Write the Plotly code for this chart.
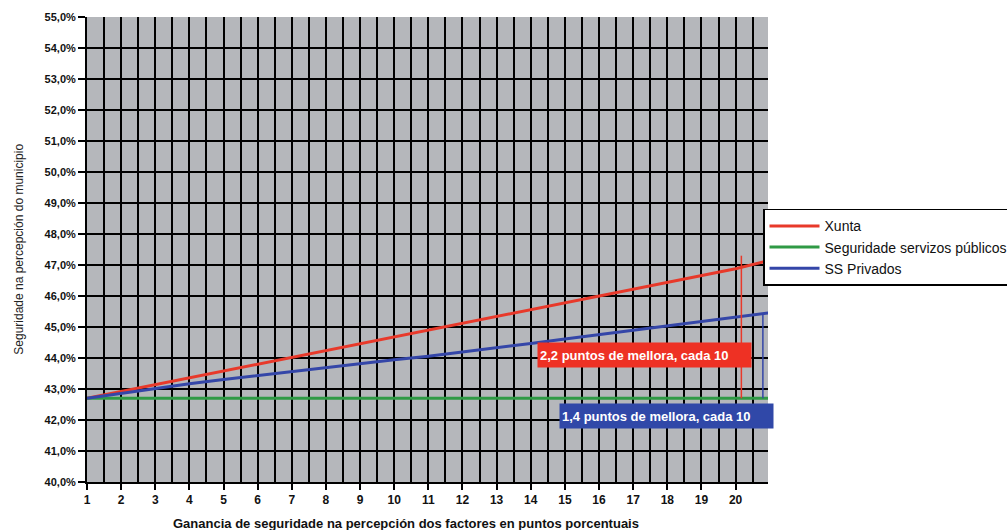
import plotly.graph_objects as go

x_vals = list(range(1, 22))
xunta = [42.70, 42.92, 43.14, 43.36, 43.58, 43.80, 44.02, 44.24, 44.46, 44.68, 44.90,
         45.12, 45.34, 45.56, 45.78, 46.00, 46.22, 46.44, 46.66, 46.88, 47.15]
publicos = [42.70] * 21
privados = [42.70, 42.86, 43.02, 43.17, 43.31, 43.44, 43.57, 43.70, 43.83, 43.94, 44.06,
            44.19, 44.33, 44.47, 44.61, 44.75, 44.89, 45.03, 45.17, 45.31, 45.46]

series_names = ["Xunta", "Seguridade servizos públicos", "SS Privados"]
series_colors = ["#e8392a", "#2f9a45", "#3446a8"]

# reference (vertical) markers
red_marker_x = [20.17, 20.17]
red_marker_y = [42.70, 47.30]
blue_marker_x = [20.80, 20.80]
blue_marker_y = [42.70, 45.45]

label_texts = ["2,2 puntos de mellora, cada 10", "1,4 puntos de mellora, cada 10"]
label_pos = [(14.17, 44.10), (14.82, 42.12)]   # left edge of each box
label_colors = ["#ee3124", "#3048a8"]

y_ticks = list(range(40, 56))
y_labels = [f"{v},0%" for v in y_ticks]
x_ticks = list(range(1, 21))

x_title = "Ganancia de seguridade na percepción dos factores en puntos porcentuais"
y_title = "Seguridade na percepción do municipio"

fig = go.Figure()
for name, ys, col in zip(series_names, [xunta, publicos, privados], series_colors):
    fig.add_trace(go.Scatter(x=x_vals, y=ys, mode="lines", name=name,
                             line=dict(color=col, width=3)))

fig.add_trace(go.Scatter(x=red_marker_x, y=red_marker_y, mode="lines", showlegend=False,
                         line=dict(color=series_colors[0], width=1.5)))
fig.add_trace(go.Scatter(x=blue_marker_x, y=blue_marker_y, mode="lines", showlegend=False,
                         line=dict(color=series_colors[2], width=1.5)))

for txt, (ax, ay), col in zip(label_texts, label_pos, label_colors):
    fig.add_annotation(x=ax, y=ay, xref="x", yref="y", text=txt, showarrow=False,
                       xanchor="left", align="left",
                       font=dict(color="white", size=13, family="Liberation Sans", weight="bold"),
                       bgcolor=col, width=209, height=20, borderpad=2)

fig.add_annotation(x=0.468, y=-0.069, xref="paper", yref="paper", text=x_title,
                   showarrow=False, xanchor="center", yanchor="top",
                   font=dict(size=13, color="#111111", family="Liberation Sans", weight="bold"))
fig.add_annotation(x=-0.101, y=0.5, xref="paper", yref="paper", text=y_title,
                   showarrow=False, textangle=-90, xanchor="center", yanchor="middle",
                   font=dict(size=12, color="#222222", family="Liberation Sans"))

fig.update_layout(
    width=1007, height=530,
    margin=dict(l=87, r=239, t=17, b=48, autoexpand=False),
    paper_bgcolor="white",
    plot_bgcolor="#b5b7bb",
    font=dict(family="Liberation Sans", color="#222222"),
    showlegend=True,
    legend=dict(x=0.7577, y=0.606, xref="container", yref="container",
                xanchor="left", yanchor="top",
                bordercolor="black", borderwidth=1.5, bgcolor="white",
                font=dict(size=14, color="#111111"), tracegroupgap=0,
                itemwidth=50),
    xaxis=dict(range=[1, 20.95], tickvals=x_ticks, ticktext=[str(v) for v in x_ticks],
               showgrid=False, zeroline=False, automargin=False,
               minor=dict(dtick=0.5, tick0=1, showgrid=True, gridcolor="black", gridwidth=2,
                          ticks=""),
               ticks="outside", ticklen=6, tickwidth=2, tickcolor="black",
               showline=True, linecolor="black", linewidth=2,
               tickfont=dict(size=12, family="Liberation Sans", color="#111111", weight="bold")),
    yaxis=dict(range=[40, 55], tickvals=y_ticks, ticktext=y_labels,
               showgrid=True, gridcolor="black", gridwidth=2, zeroline=False, automargin=False,
               ticks="outside", ticklen=7, tickwidth=2, tickcolor="black",
               showline=True, linecolor="black", linewidth=2,
               tickfont=dict(size=11, family="Liberation Sans", color="#111111", weight="bold")),
)

fig.write_html("out.html", config={"displayModeBar": False},
               post_script="document.body.style.margin='0';document.body.style.overflow='hidden';")
